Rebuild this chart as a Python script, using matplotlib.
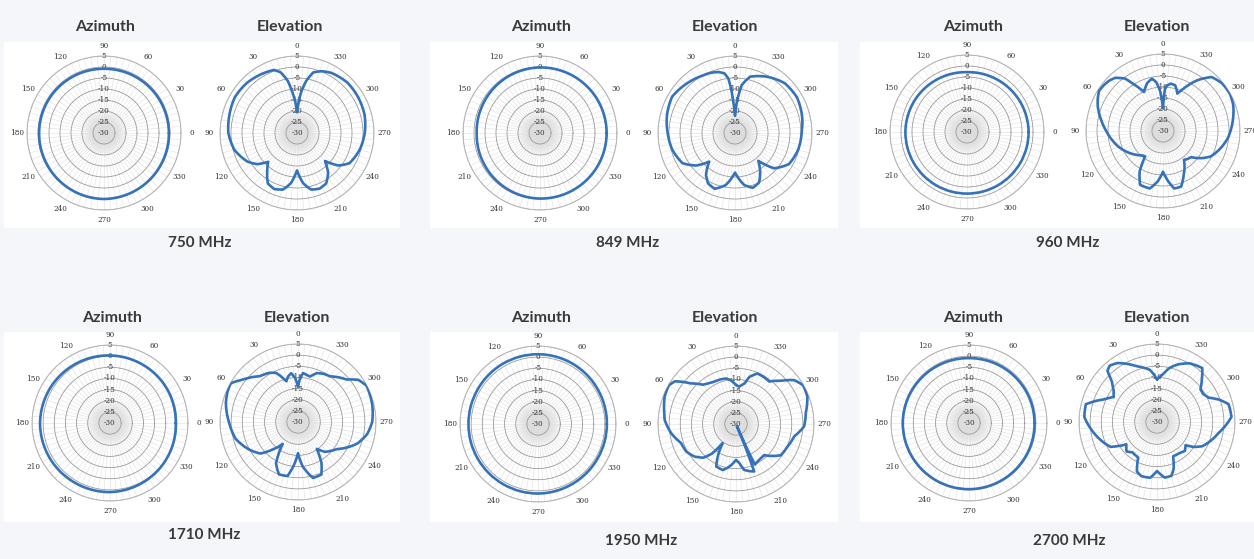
import numpy as np
import matplotlib
matplotlib.use("Agg")
import matplotlib.pyplot as plt
from matplotlib.patches import Rectangle, PathPatch
from matplotlib.path import Path

W, H, DPI = 1254, 559, 100

FREQS = ["750 MHz", "849 MHz", "960 MHz", "1710 MHz", "1950 MHz", "2700 MHz"]

# azimuth cuts (deg, 0 at right, counter-clockwise) -> gain dB
AZ_DEG = [0, 30, 60, 90, 120, 150, 180, 210, 240, 270, 300, 330, 360]
AZ_750 = [-0.5, -0.6, -0.7, -0.8, -0.7, -0.6, -0.5, -0.4, -0.2, 0.0, -0.2, -0.4, -0.5]
AZ_849 = [0.3, 0.2, 0.0, -0.2, -0.5, -0.9, -1.2, -0.9, -0.5, -0.2, 0.0, 0.2, 0.3]
AZ_960 = [-2.0, -2.2, -2.5, -2.8, -2.5, -2.2, -2.0, -2.0, -2.0, -2.0, -2.0, -2.0, -2.0]
AZ_1710 = [-0.5, -0.2, 0.0, 0.3, 0.7, 1.1, 1.4, 1.3, 1.1, 1.0, 0.5, 0.0, -0.5]
AZ_1950 = [0.9, 1.0, 1.2, 1.3, 1.3, 1.2, 1.2, 1.2, 1.2, 1.2, 1.0, 0.9, 0.9]
AZ_2700 = [-0.6, -0.7, -0.8, -0.9, -0.7, -0.5, -0.3, -0.3, -0.3, -0.3, -0.4, -0.5, -0.6]

# elevation cuts (deg, 0 at top, counter-clockwise) -> gain dB
EL750_DEG = [0, 3, 6, 10, 15, 20, 30, 45, 60, 75, 90, 105, 120, 128, 135, 142, 150, 158,
             166, 173, 180, 187, 194, 202, 210, 218, 225, 232, 240, 255, 270, 285, 300,
             315, 330, 338, 345, 350, 354, 357, 360]
EL750_DB = [-20.5, -16, -12, -6, -1.5, 0.5, 1.2, 2.2, 2.6, 1.8, 1.2, -0.5, -4, -7, -11.5,
            -8, -3.5, -2.5, -3.5, -7, -13, -7, -3.5, -2.7, -3.5, -7, -12, -6, -2.5, -0.5,
            0.8, 1.8, 2.2, 2.4, 1.5, 0.3, -1.5, -6, -11, -16, -20.5]

EL849_DEG = [0, 3, 5, 7, 10, 15, 22, 30, 45, 60, 75, 90, 105, 120, 130, 138, 145, 152,
             160, 170, 180, 190, 198, 206, 213, 220, 228, 240, 255, 270, 285, 300, 315,
             330, 340, 345, 352, 356, 360]
EL849_DB = [-22, -16, -10, -5, -2.5, -1.3, -0.5, 0, 1.5, 3, 2, 0.6, -0.5, -2.5, -7, -12.5,
            -7, -4, -3, -6, -12, -6, -3.8, -5, -9, -13.5, -6, -1.7, -0.3, 0.3, 1.5, 2.5, 2,
            -0.5, -2.5, -3.5, -8, -15, -22]

EL960_DEG = [0, 4, 8, 12, 18, 26, 32, 36, 42, 47, 52, 58, 64, 70, 80, 90, 100, 111, 122,
             132, 140, 145, 150, 157, 167, 174, 180, 186, 191, 198, 205, 211, 216, 222,
             227, 235, 242, 252, 264, 272, 281, 290, 299, 309, 318, 326, 334, 339, 345,
             351, 357, 360]
EL960_DB = [-19.5, -12, -7.5, -5.7, -7, -10.3, -5, -0.5, 2.5, 3.5, 4, 4.3, 3, 1.5, -1.5,
            -4.2, -6.5, -8.9, -11.5, -13.8, -15.5, -15.9, -8.8, -3.4, -3.2, -7, -11.5, -7,
            -3.4, -3.4, -7.8, -11, -13.8, -13, -12.6, -8.5, -5.4, -3, -0.3, 1, 2.5, 4, 4.8,
            4.5, 3, -2.2, -8.5, -11.8, -8.5, -8.2, -10, -19.5]

EL1710_DEG = [0, 4, 8, 12, 16, 24, 30, 40, 53, 60, 66, 75, 90, 105, 120, 130, 137, 145,
              152, 160, 169, 174, 180, 186, 195, 204, 210, 215, 222, 235, 250, 260, 270,
              283, 298, 305, 311, 318, 325, 332, 339, 345, 350, 354, 357, 360]
EL1710_DB = [-14, -10, -7.9, -9, -11, -5.9, -4.5, -3.2, 1.4, 4.8, 4.5, 3.5, 1, -1, -5, -8,
             -13, -18, -9, -5, -5.3, -10, -16, -10, -4, -4.2, -9, -15.3, -12, -8.8, -1.7,
             1.5, 3.3, 4.2, 4.8, 3, -1, -3, -5, -5.5, -6.5, -8.9, -8.5, -7.9, -10, -14]

EL1950_DEG = [0, 6, 12, 20, 27, 34, 40, 48, 55, 60, 69, 78, 87, 98, 109, 119, 128, 136,
              141, 145, 150, 155, 164, 171, 180, 185, 190, 196, 201, 203, 205, 209, 215,
              222, 235, 246, 258, 268, 279, 291, 300, 307, 314, 322, 330, 337, 344, 348,
              355, 360]
EL1950_DB = [-12.5, -10.5, -9.1, -8.8, -8.7, -8, -7, -2.8, 3.4, 4.8, 4.3, 3, 2, -0.6,
             -3.9, -4.5, -6.3, -9, -13, -19.5, -14, -9, -8.5, -10.6, -13.9, -12.4, -9.1,
             -8, -7.2, -29, -9.9, -10.5, -11, -11.2, -5.5, -4.8, -3.3, 0.6, 1.7, 4.3, 4.8,
             2.7, -2.1, -5.8, -5.5, -5.4, -8, -11.4, -13.2, -12.5]

EL2700_DEG = [0, 4, 8, 20, 34, 40, 44, 48, 54, 60, 67, 76, 86, 100, 118, 126, 134, 141,
              152, 158, 164, 173, 180, 188, 195, 200, 205, 216, 224, 231, 236, 242, 260,
              274, 284, 290, 295, 301, 307, 314, 320, 331, 340, 347, 353, 360]
EL2700_DB = [-10.9, -8.5, -6.3, -3.4, 1.9, 3, 2, -2.8, -6, -7.6, -4.1, 2.9, 2.7, -1.3,
             -6.3, -13, -11, -12.5, -12, -6, -4.7, -4.8, -8, -4.8, -5, -8, -13, -12.8, -12,
             -13.5, -10, -6.9, -1.9, 3.5, 3.1, -0.5, -4.3, -5.8, -5.6, -2, 1.6, 0.1, -2.5,
             -5.1, -8.5, -10.9]

AZ_SETS = [AZ_750, AZ_849, AZ_960, AZ_1710, AZ_1950, AZ_2700]
EL_SETS = [(EL750_DEG, EL750_DB), (EL849_DEG, EL849_DB), (EL960_DEG, EL960_DB),
           (EL1710_DEG, EL1710_DB), (EL1950_DEG, EL1950_DB), (EL2700_DEG, EL2700_DB)]

# layout, pixel positions in the 1254x559 picture
AZ_CENTERS = [(104, 133), (540, 133), (967, 132), (110, 423), (538, 424), (969, 423)]
EL_CENTERS = [(297, 133), (735, 133), (1163, 131), (298, 422), (736, 424), (1157, 422)]
RADIUS = [77, 77, 77, 78, 78, 78]
AZ_TITLE = [(105, 27), (541, 27), (973, 27), (112, 318), (541, 318), (973, 318)]
EL_TITLE = [(290, 27), (725, 27), (1157, 27), (297, 318), (725, 318), (1157, 318)]
FREQ_POS = [(200, 243), (628, 243), (1068, 243), (204, 535), (641, 541), (1069, 541)]

LINE = "#3572b8"
RMIN, RMAX = -30, 5

fig = plt.figure(figsize=(W / DPI, H / DPI), dpi=DPI, facecolor="#f4f6f9")

# white boxes behind the plots
for x0, x1 in [(4, 400), (430, 838), (860, 1254)]:
    for y0, y1 in [(42, 228), (332, 522)]:
        fig.patches.append(Rectangle((x0 / W, 1 - y1 / H), (x1 - x0) / W, (y1 - y0) / H,
                                     transform=fig.transFigure, facecolor="white",
                                     edgecolor="none", zorder=-5))


def polar_at(cx, cy, rad):
    ax = fig.add_axes([(cx - rad) / W, 1 - (cy + rad) / H, 2 * rad / W, 2 * rad / H],
                      projection="polar")
    ax.set_zorder(2)
    return ax


def style(ax, elevation):
    if elevation:
        ax.set_theta_zero_location("N")
        rl = 0
    else:
        ax.set_theta_zero_location("E")
        rl = 90
    ax.set_theta_direction(1)
    ax.set_facecolor("none")
    angs = np.arange(0, 360, 5)
    labs = [str(a) if a % 30 == 0 else "" for a in angs]
    ax.set_thetagrids(angs, labs)
    ticks = np.arange(RMIN, RMAX + 1, 5)
    ax.set_rticks(ticks)
    ax.set_yticklabels([str(t) for t in ticks])
    ax.set_rlim(RMIN, RMAX)
    ax.set_rlabel_position(rl)
    ax.xaxis.grid(True, color="#e0e0e0", lw=0.4)
    ax.yaxis.grid(True, color="#9a9a9a", lw=0.6)
    ax.spines["polar"].set_color("#b5b5b5")
    ax.spines["polar"].set_linewidth(0.7)
    ax.tick_params(axis="x", pad=-3, labelsize=5.2, colors="#333333")
    ax.tick_params(axis="y", labelsize=5.2, colors="#333333", pad=0)
    for t in ax.get_xticklabels() + ax.get_yticklabels():
        t.set_family("DejaVu Serif")
    for t in ax.get_yticklabels():
        t.set_ha("center")
        t.set_va("center")
    # soft grey haze in the middle
    th = np.linspace(0, 2 * np.pi, 200)
    for k in range(12):
        ax.fill(th, np.full_like(th, RMIN + 10 * (1 - k / 12)), color="#a0a0a0",
                alpha=0.055, lw=0, zorder=1)


def trace(ax, deg, db):
    # straight segments in (angle, dB) space, bent by the polar transform
    verts = np.column_stack([np.radians(deg), db])
    path = Path(verts, _interpolation_steps=40)
    ax.add_patch(PathPatch(path, fill=False, edgecolor=LINE, lw=1.9, zorder=5,
                           joinstyle="round", capstyle="round"))
    ax.set_rlim(RMIN, RMAX)


for i in range(6):
    cx, cy = AZ_CENTERS[i]
    ax = polar_at(cx, cy, RADIUS[i])
    style(ax, False)
    trace(ax, AZ_DEG, AZ_SETS[i])

    cx, cy = EL_CENTERS[i]
    ax = polar_at(cx, cy, RADIUS[i])
    style(ax, True)
    deg, db = EL_SETS[i]
    trace(ax, deg, db)

    x, y = AZ_TITLE[i]
    fig.text(x / W, 1 - y / H, "Azimuth", ha="center", va="center", fontsize=11.5,
             fontweight="bold", color="#3a3a3a", family="Lato")
    x, y = EL_TITLE[i]
    fig.text(x / W, 1 - y / H, "Elevation", ha="center", va="center", fontsize=11.5,
             fontweight="bold", color="#3a3a3a", family="Lato")
    x, y = FREQ_POS[i]
    fig.text(x / W, 1 - y / H, FREQS[i], ha="center", va="center", fontsize=11,
             fontweight="bold", color="#3a3a3a", family="Lato")

fig.savefig("out.png", dpi=DPI, facecolor=fig.get_facecolor())
